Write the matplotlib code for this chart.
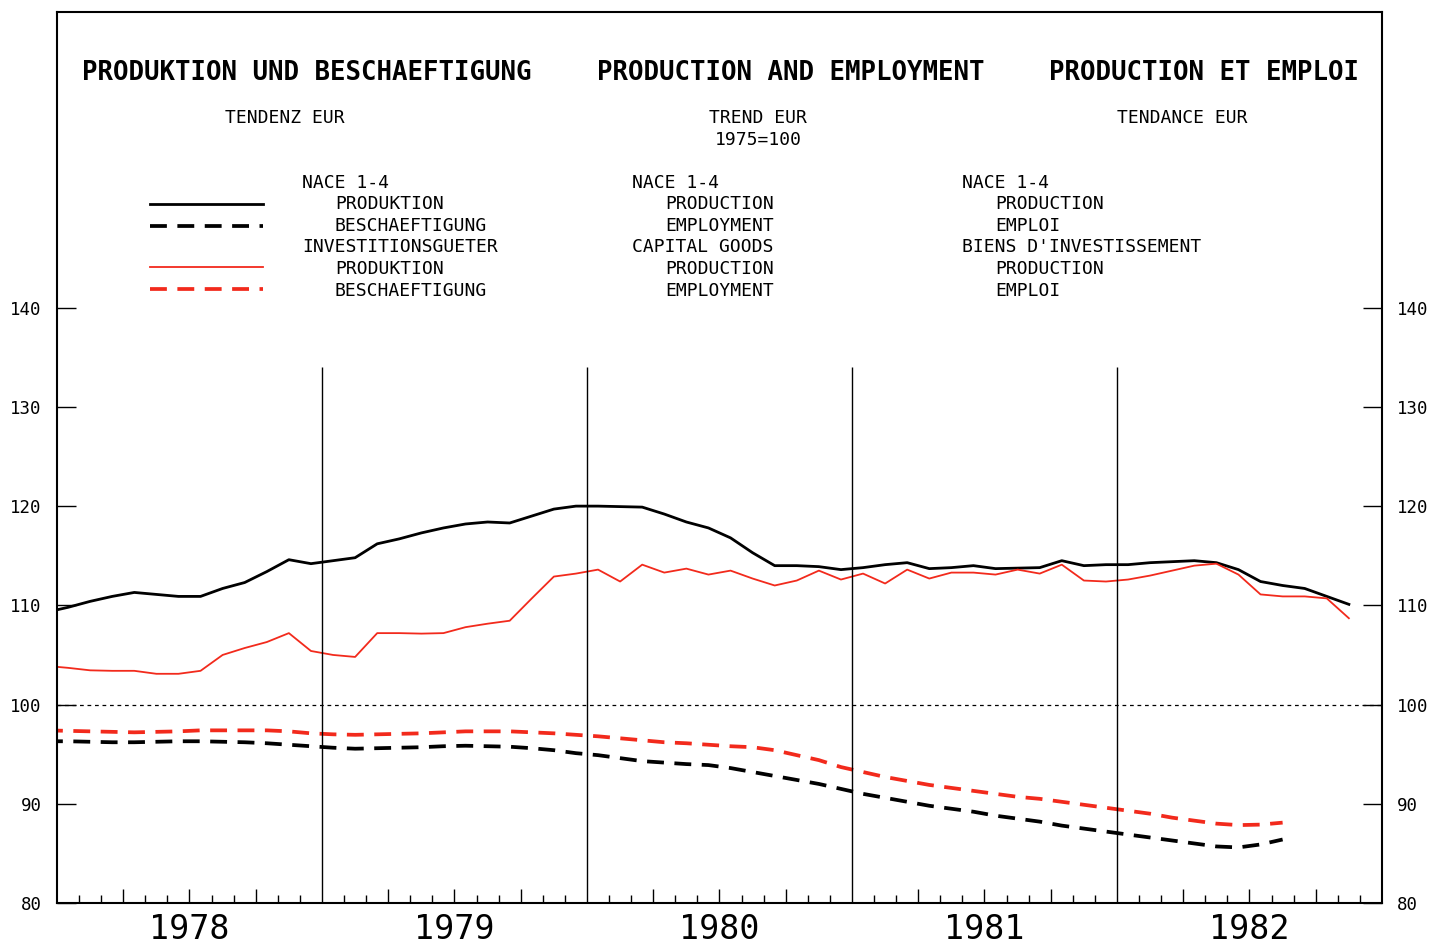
# -*- coding: utf-8 -*-

import matplotlib
matplotlib.use('Agg')
import matplotlib.pyplot as plt
from matplotlib.lines import Line2D

# monthly values, first point is Dec 1977 (clipped by the frame)
years = [1978, 1979, 1980, 1981, 1982]

nace_prod = [109.3, 109.8, 110.4, 110.9, 111.3, 111.1, 110.9, 110.9, 111.7, 112.3,
             113.4, 114.6, 114.2, 114.5, 114.8, 116.2, 116.7, 117.3, 117.8, 118.2,
             118.4, 118.3, 119.0, 119.7, 120.0, 120.0, 119.95, 119.9, 119.2, 118.4,
             117.8, 116.8, 115.3, 114.0, 114.0, 113.9, 113.6, 113.8, 114.1, 114.3,
             113.7, 113.8, 114.0, 113.7, 113.75, 113.8, 114.5, 114.0, 114.1, 114.1,
             114.3, 114.4, 114.5, 114.3, 113.6, 112.4, 112.0, 111.7, 110.9, 110.1]

invest_prod = [103.9, 103.7, 103.45, 103.4, 103.4, 103.1, 103.1, 103.4, 105.0, 105.7,
               106.3, 107.2, 105.4, 105.0, 104.8, 107.2, 107.2, 107.15, 107.2, 107.8,
               108.15, 108.45, 110.7, 112.9, 113.2, 113.6, 112.4, 114.1, 113.3, 113.7,
               113.1, 113.5, 112.7, 112.0, 112.5, 113.5, 112.6, 113.2, 112.2, 113.6,
               112.7, 113.3, 113.3, 113.1, 113.6, 113.2, 114.1, 112.5, 112.4, 112.6,
               113.0, 113.5, 114.0, 114.2, 113.1, 111.1, 110.9, 110.9, 110.7, 108.7]

nace_empl = [96.3, 96.3, 96.25, 96.2, 96.2, 96.25, 96.3, 96.3, 96.25, 96.2,
             96.1, 95.95, 95.8, 95.65, 95.55, 95.6, 95.65, 95.7, 95.8, 95.85,
             95.8, 95.75, 95.6, 95.4, 95.1, 94.9, 94.6, 94.3, 94.15, 94.0,
             93.9, 93.6, 93.2, 92.8, 92.4, 92.0, 91.5, 91.0, 90.6, 90.2,
             89.8, 89.5, 89.2, 88.8, 88.5, 88.2, 87.8, 87.5, 87.2, 86.9,
             86.6, 86.3, 86.0, 85.7, 85.6, 85.9, 86.4]

invest_empl = [97.4, 97.35, 97.3, 97.25, 97.2, 97.25, 97.3, 97.4, 97.4, 97.4,
               97.4, 97.3, 97.1, 97.0, 96.95, 97.0, 97.05, 97.1, 97.2, 97.3,
               97.3, 97.3, 97.2, 97.1, 96.95, 96.8, 96.6, 96.4, 96.2, 96.1,
               95.95, 95.8, 95.7, 95.4, 94.9, 94.4, 93.7, 93.2, 92.7, 92.3,
               91.9, 91.6, 91.3, 91.0, 90.7, 90.5, 90.2, 89.9, 89.6, 89.3,
               89.0, 88.6, 88.3, 88.0, 87.85, 87.9, 88.1]

titles = ['PRODUKTION UND BESCHAEFTIGUNG', 'PRODUCTION AND EMPLOYMENT',
          'PRODUCTION ET EMPLOI']
subtitles = ['TENDENZ EUR', 'TREND EUR', 'TENDANCE EUR']
legend_de = ['NACE 1-4', 'PRODUKTION', 'BESCHAEFTIGUNG', 'INVESTITIONSGUETER',
             'PRODUKTION', 'BESCHAEFTIGUNG']
legend_en = ['NACE 1-4', 'PRODUCTION', 'EMPLOYMENT', 'CAPITAL GOODS',
             'PRODUCTION', 'EMPLOYMENT']
legend_fr = ['NACE 1-4', 'PRODUCTION', 'EMPLOI', 'BIENS D\'INVESTISSEMENT',
             'PRODUCTION', 'EMPLOI']

W, H = 1434, 946
MONO = 'DejaVu Sans Mono'
RED = '#f22a1c'
DASH = (0, (4.5, 2.8))


def month_x(n):
    return [1978 + (k - 0.5) / 12 for k in range(n)]


def px(x, y):
    return x / W, 1 - y / H


def draw():
    fig = plt.figure(figsize=(W / 100, H / 100), dpi=100)
    ax = fig.add_axes([57 / W, 43 / H, 1325 / W, 891 / H])

    ax.plot(month_x(len(nace_prod)), nace_prod, color='black', lw=2.0)
    ax.plot(month_x(len(invest_prod)), invest_prod, color=RED, lw=1.3)
    ax.plot(month_x(len(nace_empl)), nace_empl, color='black', lw=2.7, ls=DASH)
    ax.plot(month_x(len(invest_empl)), invest_empl, color=RED, lw=2.7, ls=DASH)

    ax.axhline(100, color='black', lw=0.9, ls=(0, (3, 3)))
    ax.vlines(years[1:], 80, 134, color='black', lw=1.0)

    ax.set_xlim(1978, 1983)
    ax.set_ylim(80, 169.8)

    ax.set_yticks(range(80, 141, 10))
    ax.tick_params(axis='y', direction='in', length=14, width=1, left=True,
                   right=True, labelleft=True, labelright=True, pad=11,
                   labelsize=12.5)
    for lab in ax.get_yticklabels():
        lab.set_fontfamily(MONO)

    quarters = [y + q / 4 for y in years for q in range(1, 4)]
    months = [y + m / 12 for y in years for m in range(1, 12)]
    ax.set_xticks(quarters)
    ax.set_xticks(months, minor=True)
    ax.tick_params(axis='x', which='major', direction='in', length=10, width=1,
                   labelbottom=False)
    ax.tick_params(axis='x', which='minor', direction='in', length=5.5, width=1)

    for sp in ax.spines.values():
        sp.set_linewidth(1.5)

    # year labels under the axis, kept inside the canvas
    for yr in years:
        fig.text((57 + 265 * (yr - 1978 + 0.5)) / W, 0.5 / H, str(yr),
                 ha='center', va='bottom', fontsize=24, family=MONO)

    # headings
    for s, x in zip(titles, [82, 597, 1049]):
        fig.text(*px(x, 73), s, ha='left', va='center', fontsize=18.5,
                 family=MONO, fontweight='bold')
    for s, x in zip(subtitles, [225, 709, 1117]):
        fig.text(*px(x, 118), s, ha='left', va='center', fontsize=13, family=MONO)
    fig.text(*px(715, 140), '1975=100', ha='left', va='center', fontsize=13,
             family=MONO)

    # legend blocks
    rows = [183, 204, 226, 247, 269, 291]
    indent = [0, 1, 1, 0, 1, 1]
    for labels, x0 in zip([legend_de, legend_en, legend_fr], [302, 632, 962]):
        for s, y, ind in zip(labels, rows, indent):
            fig.text(*px(x0 + 33 * ind, y), s, ha='left', va='center',
                     fontsize=13, family=MONO)

    samples = [(204, 'black', 2.0, '-'), (226, 'black', 2.7, DASH),
               (267, RED, 1.3, '-'), (289, RED, 2.7, DASH)]
    for y, c, lw, ls in samples:
        x1, yy = px(150, y)
        x2, _ = px(263, y)
        fig.add_artist(Line2D([x1, x2], [yy, yy], color=c, lw=lw, ls=ls,
                              transform=fig.transFigure))

    fig.savefig('out.png', dpi=100)


if __name__ == '__main__':
    draw()
